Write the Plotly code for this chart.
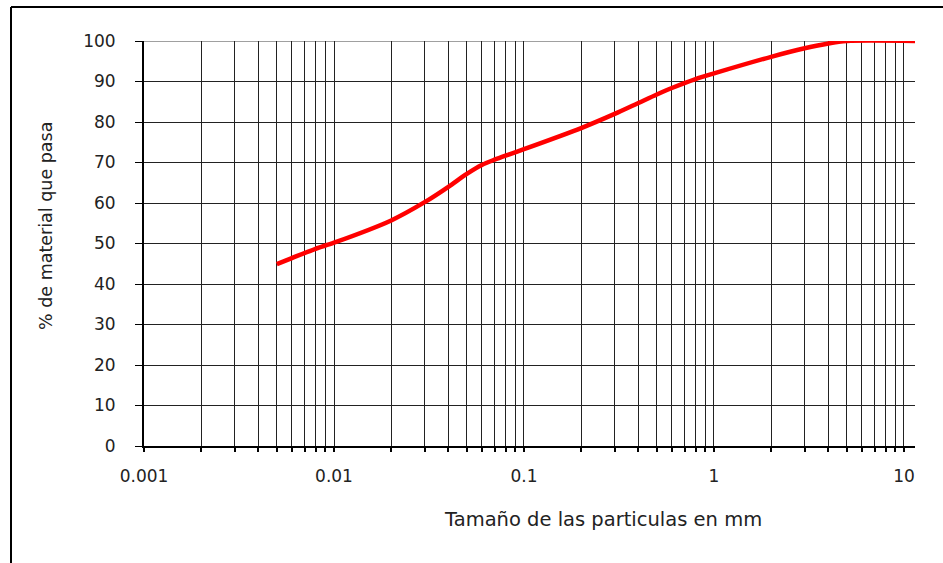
import plotly.graph_objects as go

# Data
particle_size_mm = [0.005, 0.006, 0.008, 0.01, 0.02, 0.03, 0.04, 0.05, 0.06, 0.07, 0.08,
                    0.1, 0.2, 0.3, 0.4, 0.5, 0.6, 0.8, 1, 2, 3, 4, 5, 12]
percent_passing = [44.9, 46.4, 48.7, 50.2, 55.7, 60.2, 64.0, 67.2, 69.4, 70.7, 71.7,
                   73.3, 78.5, 82.0, 84.7, 86.8, 88.4, 90.6, 92.0, 96.1, 98.2, 99.4, 100, 100]

x_tick_vals = [0.001, 0.01, 0.1, 1, 10]
x_tick_text = ["0.001", "0.01", "0.1", "1", "10"]
y_tick_vals = [0, 10, 20, 30, 40, 50, 60, 70, 80, 90, 100]

x_title = "Tamaño de las particulas en mm"
y_title = "% de material que pasa"

W, H = 943, 563
L, R, T, B = 144, 28, 41, 117
pw, ph = W - L - R, H - T - B

def px_to_paper_x(px):
    return (px - L) / pw

def px_to_paper_y(py):
    return (H - B - py) / ph

FONT = "DejaVu Sans"
TXT = "#222222"
GRID = "#222222"

fig = go.Figure()
fig.add_trace(go.Scatter(
    x=particle_size_mm, y=percent_passing, mode="lines",
    line=dict(color="#ff0000", width=4.5, shape="spline", smoothing=0.8),
    showlegend=False, hoverinfo="x+y",
))

fig.update_layout(
    width=W, height=H,
    margin=dict(l=L, r=R, t=T, b=B),
    paper_bgcolor="white", plot_bgcolor="white",
    font=dict(family=FONT, size=17, color=TXT),
    xaxis=dict(
        type="log", range=[-3, 1.058],
        tickvals=x_tick_vals, ticktext=x_tick_text,
        showgrid=True, gridcolor=GRID, gridwidth=1,
        ticks="outside", ticklen=4, tickwidth=2, tickcolor="black",
        showline=True, linecolor="black", linewidth=2,
        minor=dict(dtick="D1", showgrid=True, gridcolor=GRID, gridwidth=1,
                   ticks="outside", ticklen=4, tickwidth=2, tickcolor="black"),
        ticklabelstandoff=10,
        zeroline=False,
        tickfont=dict(family=FONT, size=17, color=TXT),
    ),
    yaxis=dict(
        range=[0, 100], tickvals=y_tick_vals,
        showgrid=True, gridcolor=GRID, gridwidth=1,
        ticks="outside", ticklen=7, tickwidth=1, tickcolor="black",
        showline=True, linecolor="black", linewidth=2,
        ticklabelstandoff=16,
        zeroline=False,
        tickfont=dict(family=FONT, size=17, color=TXT),
    ),
    annotations=[
        dict(text=x_title, xref="paper", yref="paper",
             x=px_to_paper_x(603), y=px_to_paper_y(519),
             xanchor="center", yanchor="middle", showarrow=False,
             font=dict(family=FONT, size=19.5, color=TXT)),
        dict(text=y_title, xref="paper", yref="paper",
             x=px_to_paper_x(46), y=px_to_paper_y(226),
             xanchor="center", yanchor="middle", showarrow=False, textangle=-90,
             font=dict(family=FONT, size=17.5, color=TXT)),
    ],
    shapes=[
        dict(type="line", xref="paper", yref="y", x0=0, x1=1, y0=100, y1=100,
             layer="between", line=dict(color="#a0a0a0", width=2)),
        dict(type="line", xref="paper", yref="paper",
             x0=px_to_paper_x(11), x1=px_to_paper_x(943),
             y0=px_to_paper_y(7), y1=px_to_paper_y(7),
             line=dict(color="black", width=2)),
        dict(type="line", xref="paper", yref="paper",
             x0=px_to_paper_x(11), x1=px_to_paper_x(11),
             y0=px_to_paper_y(7), y1=px_to_paper_y(563),
             line=dict(color="black", width=2)),
    ],
)

fig.write_html("out.html", config={"displayModeBar": False},
               post_script="document.body.style.margin='0px';document.body.style.overflow='hidden';")
